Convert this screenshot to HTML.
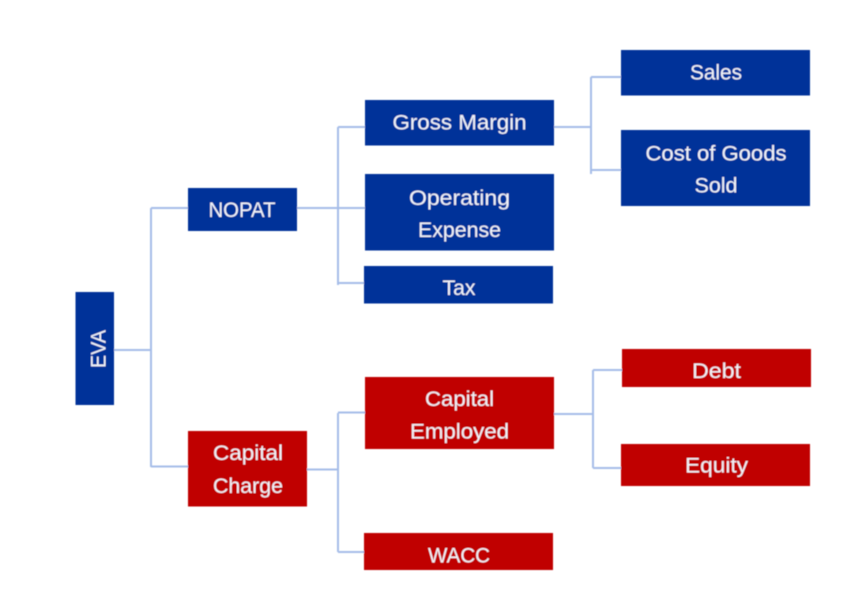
<!DOCTYPE html>
<html><head><meta charset="utf-8">
<style>html,body{margin:0;padding:0;background:#fff}svg{display:block}
text{font-family:"Liberation Sans",sans-serif;font-size:21px;fill:#f2f4fa;text-anchor:middle}</style>
</head><body>
<svg width="866" height="595" viewBox="0 0 866 595" xmlns="http://www.w3.org/2000/svg">
<defs><filter id="b" x="-5%" y="-5%" width="110%" height="110%"><feGaussianBlur stdDeviation="0.45"/></filter></defs>
<rect width="866" height="595" fill="#fff"/>
<g filter="url(#b)">
<g stroke="#a6bde8" stroke-width="2" fill="none">
<path d="M114 350H151M151 208V467M151 208H188M151 466.500H188"/>
<path d="M297 208H365M338 127V285M338 127H365M338 283H364"/>
<path d="M554 127H591M591 77V174M591 77H621M591 170H621"/>
<path d="M307 469.500H338M338 413V552M338 412.500H365M338 552H364"/>
<path d="M554 414H593M593 370V468M593 370H622M593 468H621"/>
</g>
<g fill="#003399">
<rect x="75.500" y="292" width="38.500" height="113"/>
<rect x="188" y="188" width="109" height="43"/>
<rect x="365" y="100" width="189" height="45.500"/>
<rect x="365" y="174" width="189" height="76.500"/>
<rect x="364" y="266" width="189" height="37.500"/>
<rect x="621" y="50" width="189" height="45.500"/>
<rect x="621" y="130" width="189" height="76"/>
</g>
<g fill="#c00000">
<rect x="188" y="431" width="119" height="75.500"/>
<rect x="365" y="377" width="189" height="72"/>
<rect x="364" y="533" width="189" height="37"/>
<rect x="622" y="349" width="189" height="38"/>
<rect x="621" y="444" width="189" height="42"/>
</g>
<text transform="translate(105.500 349) rotate(-90)" textLength="38" lengthAdjust="spacingAndGlyphs">EVA</text>
<text x="242" y="217" textLength="67" lengthAdjust="spacingAndGlyphs">NOPAT</text>
<text x="459.500" y="129.500" textLength="134" lengthAdjust="spacingAndGlyphs">Gross Margin</text>
<text x="459.500" y="205" textLength="101" lengthAdjust="spacingAndGlyphs">Operating</text>
<text x="459.500" y="237" textLength="83" lengthAdjust="spacingAndGlyphs">Expense</text>
<text x="459" y="295" textLength="33" lengthAdjust="spacingAndGlyphs">Tax</text>
<text x="716" y="79.500" textLength="52" lengthAdjust="spacingAndGlyphs">Sales</text>
<text x="716" y="160.500" textLength="141" lengthAdjust="spacingAndGlyphs">Cost of Goods</text>
<text x="716" y="192.500" textLength="43" lengthAdjust="spacingAndGlyphs">Sold</text>
<text x="248" y="460" textLength="70" lengthAdjust="spacingAndGlyphs">Capital</text>
<text x="248" y="493" textLength="70" lengthAdjust="spacingAndGlyphs">Charge</text>
<text x="459.500" y="406" textLength="69" lengthAdjust="spacingAndGlyphs">Capital</text>
<text x="459.500" y="438.500" textLength="99" lengthAdjust="spacingAndGlyphs">Employed</text>
<text x="459" y="562.500" textLength="62" lengthAdjust="spacingAndGlyphs">WACC</text>
<text x="716.500" y="378" textLength="49" lengthAdjust="spacingAndGlyphs">Debt</text>
<text x="716.500" y="472.500" textLength="63" lengthAdjust="spacingAndGlyphs">Equity</text>
</g>
</svg>
</body></html>
